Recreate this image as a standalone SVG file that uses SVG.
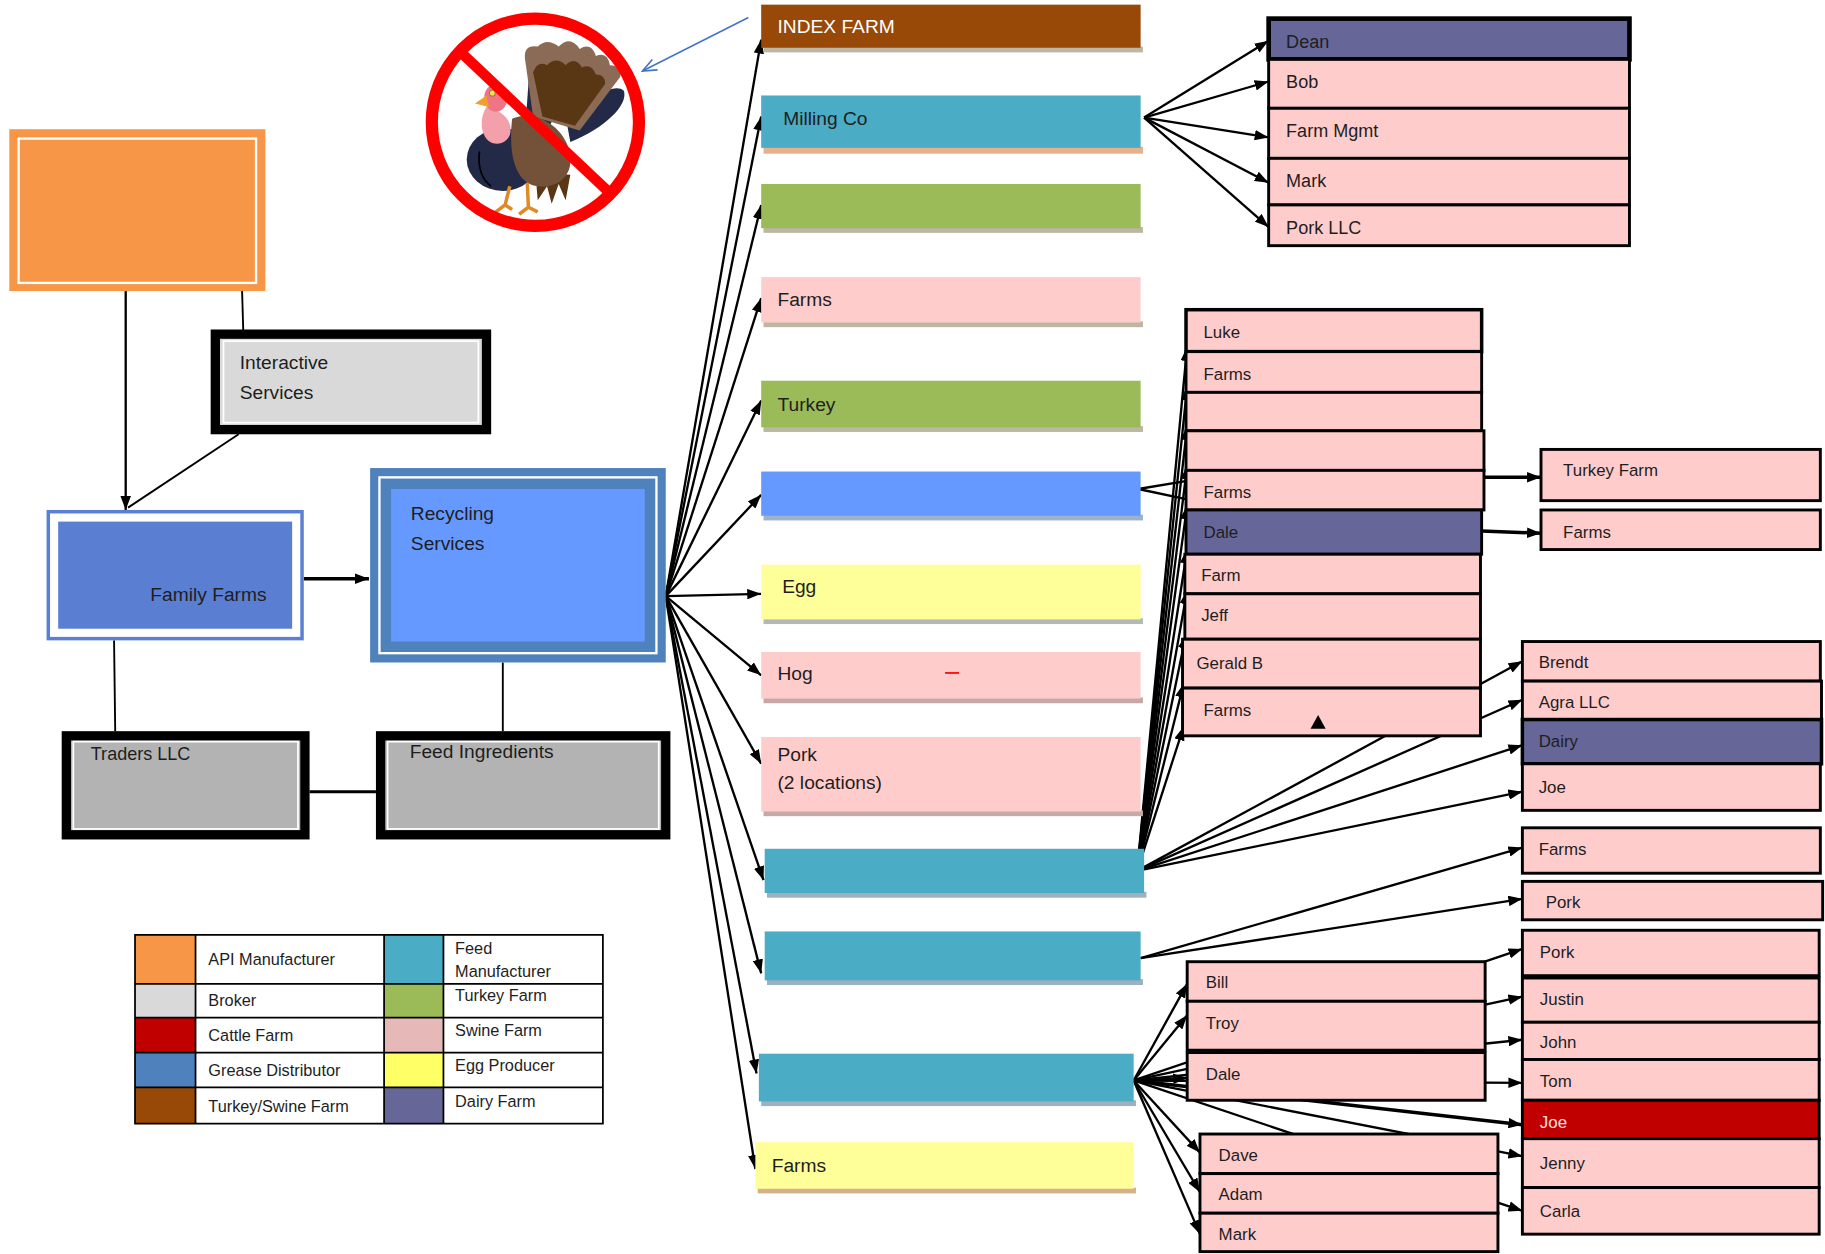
<svg xmlns="http://www.w3.org/2000/svg" width="1825" height="1254" viewBox="0 0 1825 1254">
<defs>
<marker id="ah" viewBox="0 0 12 9" refX="12" refY="4.5" markerWidth="12" markerHeight="9" markerUnits="userSpaceOnUse" orient="auto"><path d="M0,0 L12,4.5 L0,9 z" fill="#000"/></marker>
<marker id="oh" viewBox="0 0 14 12" refX="13" refY="6" markerWidth="14" markerHeight="12" markerUnits="userSpaceOnUse" orient="auto"><path d="M1,1 L13,6 L1,11" fill="none" stroke="#4472C4" stroke-width="1.4"/></marker>
<style>
text{font-family:"Liberation Sans",Arial,sans-serif;fill:#1e1e1e}
.t16{font-size:16.5px}
.t15{font-size:15.5px}
.t14{font-size:14.5px}
.lg{font-size:14px}
.sh{fill:#bcb7a3}
.row{stroke:#000;stroke-width:2.5}
.pk{fill:#ffcccc}
.pu{fill:#666699}
.rd{fill:#c00000}
.c{fill:none;stroke:#000;stroke-width:2}
.ca{fill:none;stroke:#000;stroke-width:2;marker-end:url(#ah)}
.k{fill:none;stroke:#000;stroke-width:1.6}
</style>
</defs>
<rect width="1825" height="1254" fill="#fff"/>
<g transform="scale(1.1639,1.1643)">

<g id="connectors">
<path class="ca" d="M108,250 L108,438"/>
<path class="k" d="M208,250 L209,284"/>
<path class="k" d="M205,373 L110,436"/>
<path class="ca" style="stroke-width:3" d="M261,497 L317,497"/>
<path class="k" d="M98,550 L99,628"/>
<path class="k" d="M432,569 L432,628"/>
<path class="c" style="stroke-width:2.5" d="M266,680 L323,680"/>
<path class="ca" d="M572,512 L654,34"/>
<path class="ca" d="M572,512 L654,100"/>
<path class="ca" d="M572,512 L654,176"/>
<path class="ca" d="M572,512 L654,256"/>
<path class="ca" d="M572,512 L654,344"/>
<path class="ca" d="M572,512 L654,425"/>
<path class="ca" d="M572,512 L654,510"/>
<path class="ca" d="M572,512 L654,580"/>
<path class="ca" d="M572,512 L654,656"/>
<path class="ca" d="M572,512 L656,756"/>
<path class="ca" d="M572,512 L654,836"/>
<path class="ca" d="M572,512 L650,922"/>
<path class="ca" d="M572,512 L649,1004"/>
<path class="ca" d="M983,101 L1090,35"/>
<path class="ca" d="M983,101 L1090,70"/>
<path class="ca" d="M983,101 L1090,118"/>
<path class="ca" d="M983,101 L1090,157"/>
<path class="ca" d="M983,101 L1090,195"/>
<path class="c" d="M978,420 L1020,413"/>
<path class="c" d="M978,420 L1020,429"/>
<path class="ca" d="M977,748 L1020,298"/>
<path class="ca" d="M977,748 L1020,332"/>
<path class="ca" d="M977,748 L1020,366"/>
<path class="ca" d="M977,748 L1020,400"/>
<path class="ca" d="M977,748 L1020,434"/>
<path class="ca" d="M977,748 L1020,472"/>
<path class="ca" d="M977,748 L1020,507"/>
<path class="ca" d="M977,748 L1019,545"/>
<path class="ca" d="M977,748 L1017,587"/>
<path class="ca" d="M977,748 L1017,624"/>
<path class="ca" d="M977,748 L1308,568"/>
<path class="ca" d="M977,748 L1308,601"/>
<path class="ca" d="M977,748 L1308,640"/>
<path class="ca" d="M977,748 L1308,680"/>
<path class="ca" style="stroke-width:3" d="M1273,410 L1324,410"/>
<path class="ca" style="stroke-width:3" d="M1273,456 L1324,458"/>
<path class="ca" d="M980,823 L1308,728"/>
<path class="ca" d="M980,823 L1308,772"/>
<path class="ca" d="M974,928 L1020,845"/>
<path class="ca" d="M974,928 L1020,872"/>
<path class="ca" d="M974,928 L1020,926"/>
<path class="ca" d="M974,928 L1031,990"/>
<path class="ca" d="M974,928 L1031,1024"/>
<path class="ca" d="M974,928 L1031,1060"/>
<path class="ca" d="M974,928 L1308,815"/>
<path class="ca" d="M974,928 L1308,856"/>
<path class="ca" d="M974,928 L1308,893"/>
<path class="ca" d="M974,928 L1308,930"/>
<path class="ca" style="stroke-width:3" d="M974,928 L1308,966"/>
<path class="ca" d="M974,928 L1308,993"/>
<path class="ca" d="M974,928 L1308,1040"/>
<path d="M643,15 L552,61" fill="none" stroke="#4472C4" stroke-width="1.3" marker-end="url(#oh)"/>
</g>

<g id="no-turkey">
<path d="M455,58 C470,50 480,70 482,90 L470,112 L452,100 Z" fill="#232a48"/>
<path d="M486,100 C505,85 528,70 536,78 C540,90 520,110 490,122 Z" fill="#232a48"/>
<path d="M458,100 L451,50 Q450,38 462,40 Q470,32 480,40 Q490,30 498,42 Q508,36 512,48 Q522,44 524,56 Q534,56 533,66 L498,112 Z" fill="#8b6b55"/>
<path d="M466,100 L458,62 Q462,52 470,56 Q478,48 486,56 Q494,48 500,58 Q508,54 512,64 Q520,64 520,72 L494,108 Z" fill="#5a3714"/>
<ellipse cx="432" cy="137" rx="31" ry="27" fill="#232a48"/>
<path d="M412,130 C410,145 415,155 422,160" fill="none" stroke="#000" stroke-width="1.5"/>
<path d="M460,148 L462,172 L470,160 L474,175 L480,158 L486,172 L490,150 Z" fill="#5a3714"/>
<path d="M440,102 C462,92 488,112 490,134 C492,152 478,162 462,160 C446,158 436,140 440,102 Z" fill="#735239"/>
<path d="M418,92 C428,94 442,102 438,116 C434,126 420,126 416,116 C412,108 414,98 418,92 Z" fill="#f4a0ab"/>
<ellipse cx="426" cy="84" rx="10" ry="12" fill="#ef7584"/>
<circle cx="423" cy="80" r="2.6" fill="#f2e24a" stroke="#555" stroke-width="0.6"/>
<path d="M418,82 L408,89 L420,92 Z" fill="#f0a02c"/>
<path d="M438,160 L434,176 L426,182 M434,176 L440,180" fill="none" stroke="#e08a26" stroke-width="3"/>
<path d="M453,157 L454,178 L446,184 M454,178 L462,182" fill="none" stroke="#e08a26" stroke-width="3"/>
<circle cx="460" cy="105" r="89" fill="none" stroke="#ff0000" stroke-width="10.5"/>
<path d="M397,46 L521,163" stroke="#ff0000" stroke-width="9"/>
</g>

<g id="api-manufacturer">
<rect x="8" y="111" width="220" height="139" fill="#f79646"/>
<rect x="16" y="119" width="204" height="124" fill="none" stroke="#fff" stroke-width="2"/>
</g>
<g id="interactive-services">
<rect x="185" y="287" width="233" height="82" fill="#d9d9d9" stroke="#000" stroke-width="8"/>
<rect x="192" y="293" width="219" height="70" fill="none" stroke="#fff" stroke-width="1.5"/>
<text class="t16" x="206" y="317">Interactive</text>
<text class="t16" x="206" y="343">Services</text>
</g>
<g id="family-farms">
<rect x="41.5" y="439.5" width="218" height="109" fill="#fff" stroke="#5b80d3" stroke-width="3"/>
<rect x="50" y="448" width="201" height="92" fill="#5a7fd2"/>
<text class="t16" x="229" y="516" text-anchor="end">Family Farms</text>
</g>
<g id="recycling-services">
<rect x="318" y="402" width="254" height="167" fill="#4f81bd"/>
<rect x="326" y="410" width="238" height="151" fill="none" stroke="#fff" stroke-width="2"/>
<rect x="336" y="420" width="218" height="131" fill="#6699ff"/>
<text class="t16" x="353" y="447">Recycling</text>
<text class="t16" x="353" y="472">Services</text>
</g>
<g id="traders-llc">
<rect x="57" y="632" width="205" height="85" fill="#b3b3b3" stroke="#000" stroke-width="8"/>
<rect x="63" y="637" width="193" height="75" fill="none" stroke="#fff" stroke-width="1.5"/>
<text class="t15" x="78" y="653">Traders LLC</text>
</g>
<g id="feed-ingredients">
<rect x="327" y="632" width="245" height="85" fill="#b3b3b3" stroke="#000" stroke-width="8"/>
<rect x="333" y="637" width="233" height="75" fill="none" stroke="#fff" stroke-width="1.5"/>
<text class="t16" x="352" y="651">Feed Ingredients</text>
</g>

<g id="legend">
<rect x="116" y="803" width="52" height="42" fill="#f79646"/>
<rect x="116" y="845" width="52" height="29" fill="#d9d9d9"/>
<rect x="116" y="874" width="52" height="30" fill="#c00000"/>
<rect x="116" y="904" width="52" height="30" fill="#4f81bd"/>
<rect x="116" y="934" width="52" height="31" fill="#984807"/>
<rect x="330" y="803" width="51" height="42" fill="#4bacc6"/>
<rect x="330" y="845" width="51" height="29" fill="#9bbb59"/>
<rect x="330" y="874" width="51" height="30" fill="#e6b9b8"/>
<rect x="330" y="904" width="51" height="30" fill="#ffff66"/>
<rect x="330" y="934" width="51" height="31" fill="#666699"/>
<path d="M116,803 H518 V965 H116 Z M116,845 H518 M116,874 H518 M116,904 H518 M116,934 H518 M168,803 V965 M330,803 V965 M381,803 V965" fill="none" stroke="#000" stroke-width="1.5"/>
<text class="lg" x="179" y="829">API Manufacturer</text>
<text class="lg" x="179" y="864">Broker</text>
<text class="lg" x="179" y="894">Cattle Farm</text>
<text class="lg" x="179" y="924">Grease Distributor</text>
<text class="lg" x="179" y="955">Turkey/Swine Farm</text>
<text class="lg" x="391" y="819">Feed</text>
<text class="lg" x="391" y="839">Manufacturer</text>
<text class="lg" x="391" y="860">Turkey Farm</text>
<text class="lg" x="391" y="890">Swine Farm</text>
<text class="lg" x="391" y="920">Egg Producer</text>
<text class="lg" x="391" y="951">Dairy Farm</text>
</g>

<g id="index-farm"><rect class="sh" x="656" y="40" width="326" height="5"/><rect x="654" y="4" width="326" height="37" fill="#984807"/><text class="t16" x="668" y="28" style="fill:#fff">INDEX FARM</text></g>
<g id="milling-co"><rect x="656" y="126" width="326" height="6" fill="#e6b08a"/><rect x="654" y="82" width="326" height="45" fill="#4bacc6"/><text class="t16" x="673" y="107">Milling Co</text></g>
<g id="green-1"><rect class="sh" x="656" y="195" width="326" height="5"/><rect x="654" y="158" width="326" height="38" fill="#9bbb59"/></g>
<g id="farms-pink"><rect class="sh" x="656" y="276" width="326" height="5"/><rect x="654" y="238" width="326" height="39" fill="#ffcccc"/><text class="t16" x="668" y="263">Farms</text></g>
<g id="turkey"><rect class="sh" x="656" y="366" width="326" height="5"/><rect x="654" y="327" width="326" height="40" fill="#9bbb59"/><text class="t16" x="668" y="353">Turkey</text></g>
<g id="blue-1"><rect x="656" y="442" width="326" height="5" fill="#9fb3c8"/><rect x="654" y="405" width="326" height="38" fill="#6699ff"/></g>
<g id="egg"><rect x="656" y="531" width="326" height="5" fill="#b0b8b8"/><rect x="654" y="485" width="326" height="47" fill="#ffff99"/><text class="t16" x="672" y="509">Egg</text></g>
<g id="hog"><rect x="656" y="599" width="326" height="5" fill="#c6a8a8"/><rect x="654" y="560" width="326" height="40" fill="#ffcccc"/><text class="t16" x="668" y="584">Hog</text><path d="M812,578 H824" stroke="#ff0000" stroke-width="1.5"/></g>
<g id="pork-2"><rect x="656" y="696" width="326" height="5" fill="#c6a8a8"/><rect x="654" y="633" width="326" height="64" fill="#ffcccc"/><text class="t16" x="668" y="654">Pork</text><text class="t16" x="668" y="678">(2 locations)</text></g>
<g id="teal-1"><rect x="659" y="766" width="326" height="5" fill="#9fb0bf"/><rect x="657" y="729" width="326" height="38" fill="#4bacc6"/></g>
<g id="teal-2"><rect x="659" y="841" width="323" height="5" fill="#9fb0bf"/><rect x="657" y="800" width="323" height="42" fill="#4bacc6"/></g>
<g id="teal-3"><rect x="654" y="945" width="322" height="5" fill="#9fb0bf"/><rect x="652" y="905" width="322" height="41" fill="#4bacc6"/></g>
<g id="farms-yellow"><rect x="651" y="1020" width="325" height="5" fill="#d6b08a"/><rect x="649" y="981" width="325" height="40" fill="#ffff99"/><text class="t16" x="663" y="1007">Farms</text></g>

<g id="dean"><rect class="row pu" x="1090" y="16" width="310" height="35" style="stroke-width:4"/><text class="t15" x="1105" y="41">Dean</text></g>
<g id="bob"><rect class="row pk" x="1090" y="51" width="310" height="42"/><text class="t15" x="1105" y="76">Bob</text></g>
<g id="farm-mgmt"><rect class="row pk" x="1090" y="93" width="310" height="43"/><text class="t15" x="1105" y="118">Farm Mgmt</text></g>
<g id="mark-1"><rect class="row pk" x="1090" y="136" width="310" height="40"/><text class="t15" x="1105" y="161">Mark</text></g>
<g id="pork-llc"><rect class="row pk" x="1090" y="176" width="310" height="35"/><text class="t15" x="1105" y="201">Pork LLC</text></g>

<g id="luke"><rect class="row pk" x="1019" y="266" width="254" height="36" style="stroke-width:3"/><text class="t14" x="1034" y="290">Luke</text></g>
<g id="farms-a"><rect class="row pk" x="1019" y="302" width="254" height="35"/><text class="t14" x="1034" y="326">Farms</text></g>
<g id="blank-a"><rect class="row pk" x="1019" y="337" width="254" height="33"/></g>
<g id="blank-b"><rect class="row pk" x="1019" y="370" width="256" height="34"/></g>
<g id="farms-b"><rect class="row pk" x="1019" y="404" width="256" height="34"/><text class="t14" x="1034" y="428">Farms</text></g>
<g id="dale-a"><rect class="row pu" x="1019" y="438" width="254" height="38"/><text class="t14" x="1034" y="462">Dale</text></g>
<g id="farm-a"><rect class="row pk" x="1018" y="476" width="254" height="34"/><text class="t14" x="1032" y="499">Farm</text></g>
<g id="jeff"><rect class="row pk" x="1018" y="510" width="254" height="39"/><text class="t14" x="1032" y="533">Jeff</text></g>
<g id="gerald-b"><rect class="row pk" x="1016" y="549" width="256" height="42"/><text class="t14" x="1028" y="575">Gerald B</text></g>
<g id="farms-c"><rect class="row pk" x="1016" y="591" width="256" height="41"/><text class="t14" x="1034" y="615">Farms</text><polygon points="1126,626 1139,626 1132.5,614" fill="#000"/></g>

<g id="turkey-farm"><rect class="row pk" x="1324" y="386" width="240" height="44"/><text class="t14" x="1343" y="409">Turkey Farm</text></g>
<g id="farms-d"><rect class="row pk" x="1324" y="438" width="240" height="34"/><text class="t14" x="1343" y="462">Farms</text></g>

<g id="brendt"><rect class="row pk" x="1308" y="551" width="256" height="34"/><text class="t14" x="1322" y="574">Brendt</text></g>
<g id="agra-llc"><rect class="row pk" x="1308" y="585" width="257" height="33"/><text class="t14" x="1322" y="608">Agra LLC</text></g>
<g id="dairy"><rect class="row pu" x="1308" y="618" width="257" height="38" style="stroke-width:3"/><text class="t14" x="1322" y="642">Dairy</text></g>
<g id="joe-a"><rect class="row pk" x="1308" y="656" width="256" height="40"/><text class="t14" x="1322" y="681">Joe</text></g>
<g id="farms-e"><rect class="row pk" x="1308" y="711" width="256" height="39"/><text class="t14" x="1322" y="734">Farms</text></g>
<g id="pork-a"><rect class="row pk" x="1308" y="757" width="258" height="33"/><text class="t14" x="1328" y="780">Pork</text></g>

<g id="bill"><rect class="row pk" x="1020" y="826" width="256" height="34"/><text class="t14" x="1036" y="849">Bill</text></g>
<g id="troy"><rect class="row pk" x="1020" y="860" width="256" height="42"/><text class="t14" x="1036" y="884">Troy</text></g>
<g id="dale-b"><rect class="row pk" x="1020" y="904" width="256" height="41"/><text class="t14" x="1036" y="928">Dale</text></g>
<g id="dave"><rect class="row pk" x="1031" y="974" width="256" height="34"/><text class="t14" x="1047" y="997">Dave</text></g>
<g id="adam"><rect class="row pk" x="1031" y="1008" width="256" height="34"/><text class="t14" x="1047" y="1031">Adam</text></g>
<g id="mark-b"><rect class="row pk" x="1031" y="1042" width="256" height="33"/><text class="t14" x="1047" y="1065">Mark</text></g>

<g id="pork-b"><rect class="row pk" x="1308" y="799" width="255" height="39"/><text class="t14" x="1323" y="823">Pork</text></g>
<g id="justin"><rect class="row pk" x="1308" y="840" width="255" height="38"/><text class="t14" x="1323" y="863">Justin</text></g>
<g id="john"><rect class="row pk" x="1308" y="878" width="255" height="32"/><text class="t14" x="1323" y="900">John</text></g>
<g id="tom"><rect class="row pk" x="1308" y="910" width="255" height="35"/><text class="t14" x="1323" y="934">Tom</text></g>
<g id="joe-b"><rect class="row rd" x="1308" y="945" width="255" height="33"/><text class="t14" x="1323" y="969" style="fill:#ffe0e0">Joe</text></g>
<g id="jenny"><rect class="row pk" x="1308" y="978" width="255" height="42"/><text class="t14" x="1323" y="1004">Jenny</text></g>
<g id="carla"><rect class="row pk" x="1308" y="1020" width="255" height="40"/><text class="t14" x="1323" y="1045">Carla</text></g>

</g>
</svg>
